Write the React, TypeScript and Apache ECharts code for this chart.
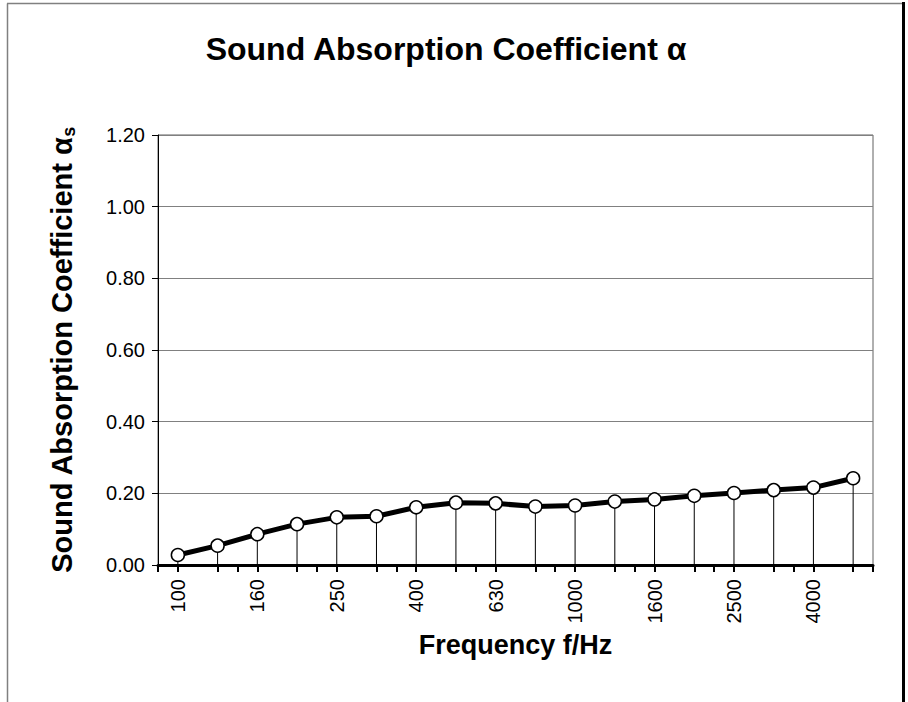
import React, { useEffect, useRef } from "react";
import * as echarts from "echarts";

const categories = ["100", "125", "160", "200", "250", "315", "400", "500", "630", "800", "1000", "1250", "1600", "2000", "2500", "3150", "4000", "5000"];
const alphaValues = [0.028, 0.054, 0.086, 0.114, 0.133, 0.136, 0.161, 0.174, 0.172, 0.163, 0.166, 0.177, 0.183, 0.193, 0.201, 0.209, 0.216, 0.242];
const titleText = "Sound Absorption Coefficient α";
const xName = "Frequency f/Hz";
const yNameMain = "Sound Absorption Coefficient α";
const yNameSub = "s";

const FONT = "'Liberation Sans', Arial, sans-serif";

export default function App() {
  const ref = useRef<HTMLDivElement>(null);
  useEffect(() => {
    if (!ref.current) return;
    const chart = echarts.init(ref.current, null, { renderer: "svg" });
    chart.setOption({
      animation: false,
      backgroundColor: "#ffffff",
      title: {
        text: titleText,
        left: 441,
        textAlign: "center",
        top: 28,
        textStyle: { fontFamily: FONT, fontSize: 32, fontWeight: "bold", color: "#000", lineHeight: 32 },
      },
      graphic: [
        { type: "line", shape: { x1: 7.5, y1: 3.5, x2: 7.5, y2: 702 }, style: { stroke: "#808080", lineWidth: 1.5 } },
        { type: "line", shape: { x1: 7, y1: 3.5, x2: 903, y2: 3.5 }, style: { stroke: "#808080", lineWidth: 1.5 } },
        { type: "line", shape: { x1: 903.5, y1: 2, x2: 903.5, y2: 702 }, style: { stroke: "#000", lineWidth: 3 } },
      ],
      grid: {
        left: 158,
        right: 35,
        top: 135,
        bottom: 137,
        show: true,
        borderColor: "#606060",
        borderWidth: 1,
        backgroundColor: "transparent",
      },
      xAxis: [
        {
          type: "category",
          data: categories,
          boundaryGap: true,
          name: xName,
          nameLocation: "middle",
          nameGap: 62,
          nameTextStyle: { fontFamily: FONT, fontSize: 27, fontWeight: "bold", color: "#000" },
          axisLine: { show: true, lineStyle: { color: "#000", width: 3 } },
          axisTick: { show: true, length: 7, lineStyle: { color: "#000", width: 2 } },
          axisLabel: {
            interval: 1,
            rotate: 90,
            margin: 14,
            fontFamily: FONT,
            fontSize: 20,
            color: "#000",
          },
          splitLine: { show: false },
          z: 5,
        },
        {
          type: "category",
          data: categories,
          boundaryGap: true,
          position: "bottom",
          axisLine: { show: false },
          axisTick: { show: true, alignWithLabel: true, length: 7, lineStyle: { color: "#000", width: 2 } },
          axisLabel: { show: false },
          splitLine: { show: false },
        },
      ],
      yAxis: {
        type: "value",
        min: 0,
        max: 1.2,
        interval: 0.2,
        name: "{m|" + yNameMain + "}{s|" + yNameSub + "}",
        nameLocation: "middle",
        nameGap: 80,
        nameRotate: 90,
        nameTextStyle: {
          fontFamily: FONT,
          fontSize: 29,
          fontWeight: "bold",
          color: "#000",
          rich: {
            m: { fontFamily: FONT, fontSize: 29, fontWeight: "bold", color: "#000" },
            s: { fontFamily: FONT, fontSize: 18, fontWeight: "bold", color: "#000", verticalAlign: "bottom", padding: [14, 0, 0, 0] },
          },
        },
        axisLine: { show: true, lineStyle: { color: "#000", width: 1 } },
        axisTick: { show: true, length: 6, lineStyle: { color: "#000", width: 1 } },
        axisLabel: {
          margin: 13,
          fontFamily: FONT,
          fontSize: 20,
          color: "#000",
          formatter: (v: number) => v.toFixed(2),
        },
        splitLine: { show: true, lineStyle: { color: "#808080", width: 1 } },
      },
      series: [
        {
          type: "bar",
          data: alphaValues,
          xAxisIndex: 0,
          barWidth: 1,
          itemStyle: { color: "#000" },
          z: 2,
        },
        {
          type: "line",
          data: alphaValues,
          xAxisIndex: 0,
          symbol: "circle",
          symbolSize: 13,
          lineStyle: { color: "#000", width: 5 },
          itemStyle: { color: "#fff", borderColor: "#000", borderWidth: 1.5 },
          z: 3,
        },
      ],
    });
    return () => chart.dispose();
  }, []);
  return <div ref={ref} style={{ position: "absolute", left: 0, top: 0, width: 908, height: 702 }} />;
}
